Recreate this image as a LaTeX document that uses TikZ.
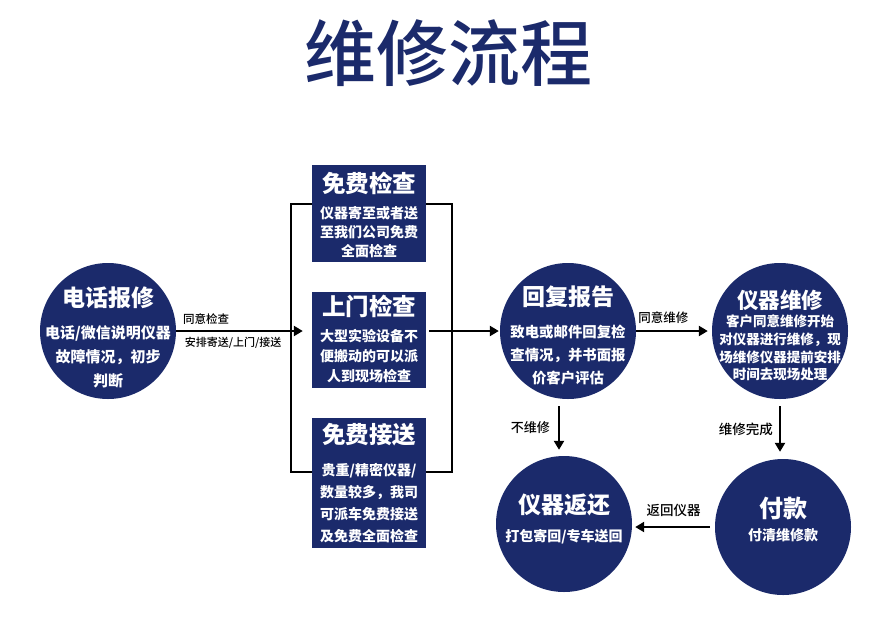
\documentclass[tikz,border=0pt]{standalone}
\usepackage{fontspec}
\setmainfont{Noto Sans CJK SC}
\newfontfamily\midfont{Noto Sans CJK SC}[UprightFont={* Medium}]
\usetikzlibrary{arrows.meta,positioning}
\definecolor{navy}{HTML}{1B2A6B}

\tikzset{
  stepcircle/.style={circle, fill=navy, minimum size=136pt, inner sep=0pt},
  stepbox/.style={fill=navy, minimum width=114pt, inner sep=0pt},
  ctitle/.style={text=white, font=\bfseries\fontsize{23}{26}\selectfont, inner sep=0pt},
  cbody/.style={text=white, align=center, inner sep=0pt},
  flow/.style={line width=2.4pt, -{Triangle[length=9pt,width=10pt]}},
  bracket/.style={line width=2.4pt},
  lbl/.style={text=black, inner sep=0pt}
}

\begin{document}
\begin{tikzpicture}[x=1pt, y=-1pt]
    \useasboundingbox (0,0) rectangle (883,630);

    % title
    \node[text=navy, font=\midfont\fontsize{72}{80}\selectfont, inner sep=0pt] (head) at (448,53) {维修流程};

    % circles
    \node[stepcircle] (c1) at (108,331) {};
    \node[ctitle] (c1t) at (108,298) {电话报修};
    \node[cbody, font=\bfseries\fontsize{15}{24}\selectfont] (c1b) at (108,357) {电话/微信说明仪器\\故障情况，初步\\判断};

    \node[stepcircle] (c2) at (568,331) {};
    \node[ctitle] (c2t) at (568,297) {回复报告};
    \node[cbody, font=\bfseries\fontsize{14.4}{23}\selectfont] (c2b) at (568,355) {致电或邮件回复检\\查情况，并书面报\\价客户评估};

    \node[stepcircle] (c3) at (780,331) {};
    \node[ctitle, font=\bfseries\fontsize{21.5}{24}\selectfont] (c3t) at (780,300) {仪器维修};
    \node[cbody, font=\bfseries\fontsize{13.5}{17.7}\selectfont] (c3b) at (780,348) {客户同意维修开始\\对仪器进行维修，现\\场维修仪器提前安排\\时间去现场处理};

    \node[stepcircle] (c4) at (564,524) {};
    \node[ctitle] (c4t) at (564,505) {仪器返还};
    \node[cbody, font=\bfseries\fontsize{14}{18}\selectfont] (c4b) at (564,537) {打包寄回/专车送回};

    \node[stepcircle] (c5) at (783,527) {};
    \node[ctitle, font=\bfseries\fontsize{24}{26}\selectfont] (c5t) at (783,508) {付款};
    \node[cbody, font=\bfseries\fontsize{14}{18}\selectfont] (c5b) at (783,535) {付清维修款};

    % boxes
    \node[stepbox, minimum height=97pt] (box1) at (369,213.5) {};
    \node[ctitle, font=\bfseries\fontsize{23.5}{26}\selectfont] (box1t) at (369,183) {免费检查};
    \node[cbody, font=\bfseries\fontsize{14}{19}\selectfont] (box1b) at (369,232) {仪器寄至或者送\\至我们公司免费\\全面检查};

    \node[stepbox, minimum height=96pt] (box2) at (369,340) {};
    \node[ctitle, font=\bfseries\fontsize{23.5}{26}\selectfont] (box2t) at (369,306) {上门检查};
    \node[cbody, font=\bfseries\fontsize{14}{20}\selectfont] (box2b) at (369,356) {大型实验设备不\\便搬动的可以派\\人到现场检查};

    \node[stepbox, minimum height=130pt] (box3) at (369,483) {};
    \node[ctitle, font=\bfseries\fontsize{23.5}{26}\selectfont] (box3t) at (369,435) {免费接送};
    \node[cbody, font=\bfseries\fontsize{14}{22}\selectfont] (box3b) at (369,503) {贵重/精密仪器/\\数量较多，我司\\可派车免费接送\\及免费全面检查};

    % brackets
    \coordinate (ltop) at (291,204);
    \coordinate (lbot) at (291,472);
    \coordinate (rtop) at (452,204);
    \coordinate (rbot) at (452,472);
    \draw[bracket] (box1.west |- ltop) -- (ltop) -- (lbot) -- (box3.west |- lbot);
    \draw[bracket] (box1.east |- rtop) -- (rtop) -- (rbot) -- (box3.east |- rbot);

    % connectors
    \draw[flow, shorten >=9pt] (c1.east) -- node[lbl, above=5pt, pos=0.22, font=\midfont\fontsize{11.5}{13}\selectfont] (l1) {同意检查}
        node[lbl, below=5pt, pos=0.42, font=\midfont\fontsize{11}{13}\selectfont] (l2) {安排寄送/上门/接送} (c1.east -| box2.west);
    \draw[flow, shorten <=3pt, shorten >=1pt] (box2.east |- c2.west) -- (c2.west);
    \draw[flow, shorten >=4pt] (c2.east) -- node[lbl, above=6pt, pos=0.36, font=\midfont\fontsize{12.5}{14}\selectfont] (l3) {同意维修} (c3.west);
    \draw[flow, shorten <=7pt, shorten >=6pt] ([xshift=-9pt]c2.south) -- node[lbl, left=8pt, font=\midfont\fontsize{13}{15}\selectfont] (l4) {不维修} ([xshift=-9pt]c2.south |- c4.north);
    \draw[flow, shorten <=7pt, shorten >=7pt] (c3.south) -- node[lbl, left=6pt, font=\midfont\fontsize{13.5}{15}\selectfont] (l5) {维修完成} (c3.south |- c5.north);
    \draw[flow, shorten <=5pt, shorten >=3pt] (c5.west) -- node[lbl, above=9pt, font=\midfont\fontsize{13.5}{15}\selectfont] (l6) {返回仪器} (c5.west -| c4.east);
\end{tikzpicture}
\end{document}
